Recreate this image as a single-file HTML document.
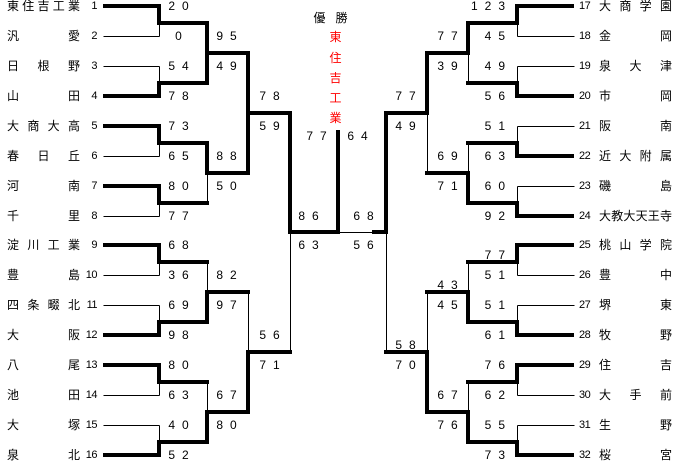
<!DOCTYPE html>
<html><head><meta charset="utf-8"><style>
body{margin:0;background:#fff;width:677px;height:470px;overflow:hidden;position:relative;font-family:"Liberation Sans","Noto Sans CJK JP",sans-serif;font-size:12px;color:#000}
.n{position:absolute;width:73px;height:14px;display:flex;justify-content:space-between;line-height:14px}
.l{left:7px}.r{left:599px}
.num{position:absolute;line-height:14px;font-size:11px;letter-spacing:-0.5px}
.nl{right:580px;text-align:right}
.nr{left:579px}
svg{position:absolute;left:0;top:0}
svg text{font-family:"Liberation Sans","Noto Sans CJK JP",sans-serif;font-size:12px;letter-spacing:7px}
</style></head><body>
<svg width="677" height="470" shape-rendering="crispEdges">
<g stroke="#000" stroke-width="1" fill="none" transform="translate(0.5,0.5)">
<path d="M103 36H159M103 66H159M103 156H159M103 216H159M103 275H159M103 305H159M103 395H159M103 425H159"/>
<path d="M159 23V36M159 66V83M159 143V156M159 203V216M159 262V275M159 305V322M159 382V395M159 425V442"/>
<path d="M207 53V83M207 173V203M207 262V292M207 382V412M248 113V173M248 292V352M290 232V352"/>
<path d="M517 36H574M517 66H574M517 126H574M517 186H574M517 275H574M517 305H574M517 395H574M517 425H574"/>
<path d="M517 23V36M517 66V83M517 126V143M517 186V203M517 262V275M517 305V322M517 382V395M517 425V442"/>
<path d="M468 53V83M468 143V173M468 262V292M468 382V412M427 113V173M427 292V352M386 232V352M338 232H386"/>
</g>
<g stroke="#000" stroke-width="4" fill="none" stroke-linecap="square">
<path d="M105 6H159V23H207V53H248V113H290V232H338V132"/>
<path d="M105 96H159V83H207V53"/>
<path d="M105 126H159V143H207V173H248V113"/>
<path d="M105 186H159V203H207"/>
<path d="M105 245H159V262H207"/>
<path d="M105 335H159V322H207V292H248"/>
<path d="M105 365H159V382H207"/>
<path d="M105 455H159V442H207V412H248V352H290"/>
<path d="M572 6H517V23H468V53H427V113H386V232H374"/>
<path d="M572 96H517V83H468"/>
<path d="M572 156H517V143H468"/>
<path d="M572 216H517V203H468V173H427"/>
<path d="M572 245H517V262H468"/>
<path d="M572 335H517V322H468V292H427"/>
<path d="M572 365H517V382H468"/>
<path d="M572 455H517V442H468V412H427V352H386"/>
</g>
<g fill="#000">
<g text-anchor="middle">
<text x="182" y="10">20</text><text x="182" y="40">0</text>
<text x="182" y="70">54</text><text x="182" y="100">78</text>
<text x="182" y="130">73</text><text x="182" y="160">65</text>
<text x="182" y="190">80</text><text x="182" y="220">77</text>
<text x="182" y="249">68</text><text x="182" y="279">36</text>
<text x="182" y="309">69</text><text x="182" y="339">98</text>
<text x="182" y="369">80</text><text x="182" y="399">63</text>
<text x="182" y="429">40</text><text x="182" y="459">52</text>
<text x="230" y="40">95</text><text x="230" y="70">49</text>
<text x="230" y="160">88</text><text x="230" y="190">50</text>
<text x="230" y="279">82</text><text x="230" y="309">97</text>
<text x="230" y="399">67</text><text x="230" y="429">80</text>
<text x="273" y="100">78</text><text x="273" y="130">59</text>
<text x="273" y="339">56</text><text x="273" y="369">71</text>
<text x="312" y="220">86</text><text x="312" y="249">63</text>
<text x="320" y="140">77</text><text x="361" y="140">64</text>
<text x="451" y="40">77</text><text x="451" y="70">39</text>
<text x="451" y="160">69</text><text x="451" y="190">71</text>
<text x="451" y="289">43</text><text x="451" y="309">45</text>
<text x="451" y="399">67</text><text x="451" y="429">76</text>
<text x="409" y="100">77</text><text x="409" y="130">49</text>
<text x="409" y="349">58</text><text x="409" y="369">70</text>
<text x="367" y="220">68</text><text x="367" y="249">56</text>
</g>
<g text-anchor="end">
<text x="512" y="10">123</text><text x="512" y="40">45</text>
<text x="512" y="70">49</text><text x="512" y="100">56</text>
<text x="512" y="130">51</text><text x="512" y="160">63</text>
<text x="512" y="190">60</text><text x="512" y="220">92</text>
<text x="512" y="259">77</text><text x="512" y="279">51</text>
<text x="512" y="309">51</text><text x="512" y="339">61</text>
<text x="512" y="369">76</text><text x="512" y="399">62</text>
<text x="512" y="429">55</text><text x="512" y="459">73</text>
</g>
<g text-anchor="middle" style="letter-spacing:0">
<text x="323" y="22">優</text><text x="345" y="22">勝</text>
<g fill="#f00"><text x="339" y="41">東</text><text x="339" y="62">住</text><text x="339" y="82">吉</text><text x="339" y="102">工</text><text x="339" y="122">業</text></g>
</g>
</g>
</svg>
<div class="n l" style="top:-1px"><span>東</span><span>住</span><span>吉</span><span>工</span><span>業</span></div><div class="num nl" style="top:-1px">1</div>
<div class="n l" style="top:29px"><span>汎</span><span>愛</span></div><div class="num nl" style="top:29px">2</div>
<div class="n l" style="top:59px"><span>日</span><span>根</span><span>野</span></div><div class="num nl" style="top:59px">3</div>
<div class="n l" style="top:89px"><span>山</span><span>田</span></div><div class="num nl" style="top:89px">4</div>
<div class="n l" style="top:119px"><span>大</span><span>商</span><span>大</span><span>高</span></div><div class="num nl" style="top:119px">5</div>
<div class="n l" style="top:149px"><span>春</span><span>日</span><span>丘</span></div><div class="num nl" style="top:149px">6</div>
<div class="n l" style="top:179px"><span>河</span><span>南</span></div><div class="num nl" style="top:179px">7</div>
<div class="n l" style="top:209px"><span>千</span><span>里</span></div><div class="num nl" style="top:209px">8</div>
<div class="n l" style="top:238px"><span>淀</span><span>川</span><span>工</span><span>業</span></div><div class="num nl" style="top:238px">9</div>
<div class="n l" style="top:268px"><span>豊</span><span>島</span></div><div class="num nl" style="top:268px">10</div>
<div class="n l" style="top:298px"><span>四</span><span>条</span><span>畷</span><span>北</span></div><div class="num nl" style="top:298px">11</div>
<div class="n l" style="top:328px"><span>大</span><span>阪</span></div><div class="num nl" style="top:328px">12</div>
<div class="n l" style="top:358px"><span>八</span><span>尾</span></div><div class="num nl" style="top:358px">13</div>
<div class="n l" style="top:388px"><span>池</span><span>田</span></div><div class="num nl" style="top:388px">14</div>
<div class="n l" style="top:418px"><span>大</span><span>塚</span></div><div class="num nl" style="top:418px">15</div>
<div class="n l" style="top:448px"><span>泉</span><span>北</span></div><div class="num nl" style="top:448px">16</div>
<div class="num nr" style="top:-1px">17</div><div class="n r" style="top:-1px"><span>大</span><span>商</span><span>学</span><span>園</span></div>
<div class="num nr" style="top:29px">18</div><div class="n r" style="top:29px"><span>金</span><span>岡</span></div>
<div class="num nr" style="top:59px">19</div><div class="n r" style="top:59px"><span>泉</span><span>大</span><span>津</span></div>
<div class="num nr" style="top:89px">20</div><div class="n r" style="top:89px"><span>市</span><span>岡</span></div>
<div class="num nr" style="top:119px">21</div><div class="n r" style="top:119px"><span>阪</span><span>南</span></div>
<div class="num nr" style="top:149px">22</div><div class="n r" style="top:149px"><span>近</span><span>大</span><span>附</span><span>属</span></div>
<div class="num nr" style="top:179px">23</div><div class="n r" style="top:179px"><span>磯</span><span>島</span></div>
<div class="num nr" style="top:209px">24</div><div class="n r" style="top:209px"><span>大</span><span>教</span><span>大</span><span>天</span><span>王</span><span>寺</span></div>
<div class="num nr" style="top:238px">25</div><div class="n r" style="top:238px"><span>桃</span><span>山</span><span>学</span><span>院</span></div>
<div class="num nr" style="top:268px">26</div><div class="n r" style="top:268px"><span>豊</span><span>中</span></div>
<div class="num nr" style="top:298px">27</div><div class="n r" style="top:298px"><span>堺</span><span>東</span></div>
<div class="num nr" style="top:328px">28</div><div class="n r" style="top:328px"><span>牧</span><span>野</span></div>
<div class="num nr" style="top:358px">29</div><div class="n r" style="top:358px"><span>住</span><span>吉</span></div>
<div class="num nr" style="top:388px">30</div><div class="n r" style="top:388px"><span>大</span><span>手</span><span>前</span></div>
<div class="num nr" style="top:418px">31</div><div class="n r" style="top:418px"><span>生</span><span>野</span></div>
<div class="num nr" style="top:448px">32</div><div class="n r" style="top:448px"><span>桜</span><span>宮</span></div>
</body></html>
